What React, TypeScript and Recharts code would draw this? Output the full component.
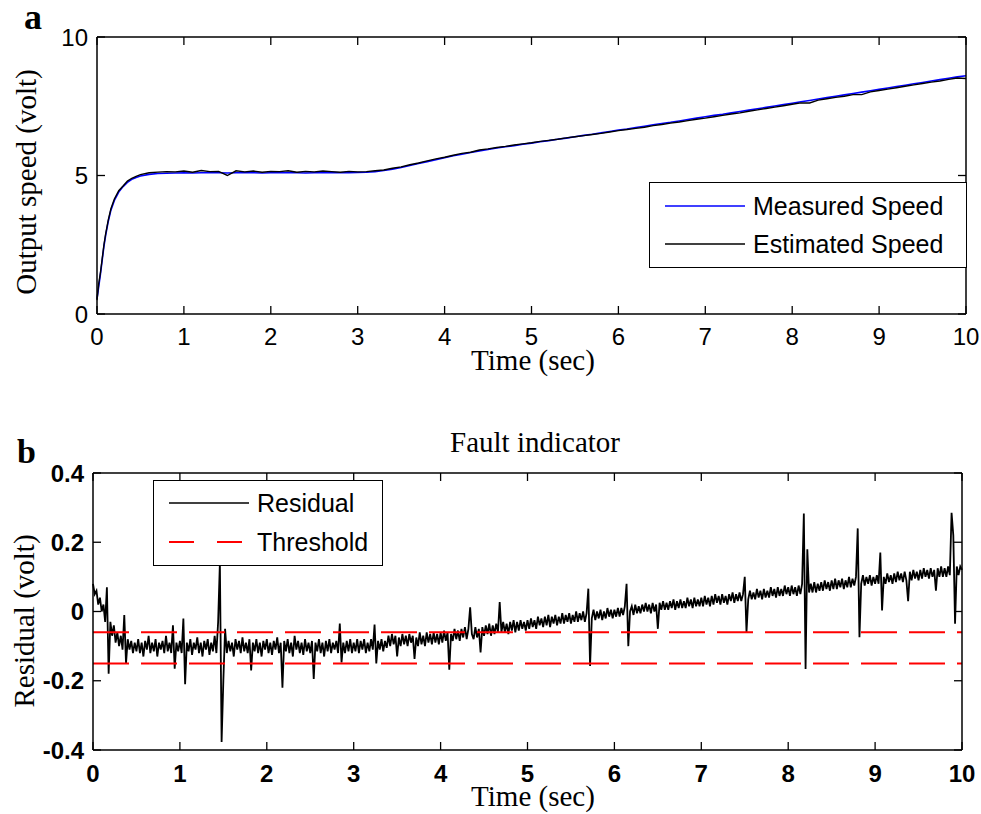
import React from 'react';
import { LineChart, Line, XAxis, YAxis, Legend } from 'recharts';

const SANS = '"Liberation Sans", Arial, sans-serif';
const SERIF = '"Liberation Serif", "Times New Roman", serif';

// ---------- Panel a : speed ----------
const timeA = [
  0, 0.02, 0.04, 0.06, 0.08, 0.1, 0.13, 0.16, 0.2, 0.25, 0.3, 0.35, 0.4, 0.45, 0.5, 0.6, 0.7,
  0.8, 0.9, 1.0, 1.1, 1.2, 1.3, 1.4, 1.5, 1.6, 1.7, 1.8, 1.9, 2.0, 2.1, 2.2, 2.3, 2.4, 2.5, 2.6, 2.7, 2.8, 2.9, 3.0,
  3.1, 3.2, 3.3, 3.4, 3.5, 3.6, 3.7, 3.8, 3.9, 4.0, 4.1, 4.2, 4.3, 4.4, 4.5, 4.6, 4.7, 4.8, 4.9, 5.0,
  5.1, 5.2, 5.3, 5.4, 5.5, 5.6, 5.7, 5.8, 5.9, 6.0, 6.1, 6.2, 6.3, 6.4, 6.5, 6.6, 6.7, 6.8, 6.9, 7.0,
  7.1, 7.2, 7.3, 7.4, 7.5, 7.6, 7.7, 7.8, 7.9, 8.0, 8.1, 8.2, 8.3, 8.4, 8.5, 8.6, 8.7, 8.8, 8.9, 9.0,
  9.1, 9.2, 9.3, 9.4, 9.5, 9.6, 9.7, 9.8, 9.9, 10.0,
];
const measuredSpeed = [
  0.55, 1.0, 1.45, 1.95, 2.45, 2.85, 3.35, 3.75, 4.1, 4.4, 4.6, 4.75, 4.86, 4.93, 4.98, 5.04, 5.07,
  5.08, 5.09, 5.1, 5.09, 5.1, 5.11, 5.1, 5.09, 5.1, 5.11, 5.1, 5.09, 5.1, 5.1, 5.11, 5.1, 5.09, 5.1, 5.1, 5.11, 5.1, 5.1, 5.11,
  5.12, 5.14, 5.18, 5.23, 5.29, 5.36, 5.43, 5.5, 5.57, 5.64, 5.71, 5.77, 5.83, 5.89, 5.94, 5.99, 6.04, 6.08, 6.13, 6.17,
  6.22, 6.26, 6.31, 6.35, 6.4, 6.45, 6.49, 6.54, 6.59, 6.64, 6.68, 6.73, 6.78, 6.83, 6.88, 6.92, 6.97, 7.02, 7.07, 7.12,
  7.17, 7.21, 7.26, 7.31, 7.36, 7.41, 7.46, 7.51, 7.56, 7.61, 7.66, 7.71, 7.76, 7.81, 7.86, 7.91, 7.96, 8.01, 8.06, 8.11,
  8.16, 8.21, 8.26, 8.31, 8.36, 8.41, 8.46, 8.51, 8.56, 8.6,
];
const estimatedSpeed = [
  0.5, 1.1, 1.5, 2.0, 2.5, 2.9, 3.4, 3.8, 4.15, 4.45, 4.62, 4.8, 4.9, 4.97, 5.03, 5.1, 5.12,
  5.14, 5.13, 5.16, 5.12, 5.18, 5.14, 5.15, 5.0, 5.17, 5.13, 5.16, 5.12, 5.15, 5.14, 5.17, 5.12, 5.15, 5.13, 5.16, 5.14, 5.12, 5.15, 5.13,
  5.14, 5.17, 5.2, 5.26, 5.31, 5.39, 5.45, 5.53, 5.6, 5.66, 5.73, 5.8, 5.84, 5.92, 5.96, 6.01, 6.05, 6.1, 6.14, 6.18,
  6.23, 6.27, 6.31, 6.36, 6.4, 6.44, 6.48, 6.52, 6.57, 6.62, 6.66, 6.7, 6.74, 6.8, 6.84, 6.89, 6.93, 6.98, 7.03, 7.07,
  7.12, 7.17, 7.22, 7.26, 7.32, 7.37, 7.42, 7.47, 7.52, 7.57, 7.62, 7.62, 7.72, 7.77, 7.82, 7.86, 7.92, 7.92, 8.02, 8.07,
  8.12, 8.17, 8.22, 8.27, 8.32, 8.37, 8.41, 8.47, 8.52, 8.5,
];
const speedTicksX = [0, 1, 2, 3, 4, 5, 6, 7, 8, 9, 10];
const speedTicksY = [0, 5, 10];

// ---------- Panel b : residual (sampled every 0.02 s) ----------
const RES_STEP = 0.02;
const residualSec0 = [
  0.08, 0.05, 0.06, 0.02, 0.04, 0.0, 0.02, -0.03, 0.07, -0.18,
  -0.03, -0.07, -0.04, -0.09, -0.06, -0.1, -0.07, -0.11, -0.01, -0.15,
  -0.08, -0.11, -0.085, -0.12, -0.09, -0.115, -0.08, -0.12, -0.09, -0.13,
  -0.085, -0.11, -0.07, -0.12, -0.09, -0.115, -0.08, -0.13, -0.09, -0.11,
  -0.085, -0.12, -0.07, -0.115, -0.09, -0.12, -0.04, -0.165, -0.09, -0.115,
];
const residualSec1 = [
  -0.085, -0.12, -0.02, -0.21, -0.09, -0.115, -0.08, -0.125, -0.09, -0.11,
  -0.075, -0.12, -0.09, -0.13, -0.085, -0.11, -0.08, -0.125, -0.09, -0.115,
  -0.07, -0.12, -0.03, 0.14, -0.377, -0.2, -0.05, -0.12, -0.085, -0.115,
  -0.09, -0.13, -0.08, -0.11, -0.085, -0.12, -0.075, -0.115, -0.09, -0.12,
  -0.08, -0.17, -0.09, -0.115, -0.08, -0.12, -0.09, -0.13, -0.085, -0.11,
];
const residualSec2 = [
  -0.08, -0.12, -0.09, -0.125, -0.085, -0.11, -0.075, -0.12, -0.09, -0.22,
  -0.085, -0.115, -0.08, -0.12, -0.09, -0.13, -0.07, -0.11, -0.085, -0.12,
  -0.09, -0.125, -0.08, -0.115, -0.09, -0.12, -0.085, -0.195, -0.09, -0.115,
  -0.08, -0.12, -0.09, -0.13, -0.085, -0.115, -0.08, -0.12, -0.09, -0.11,
  -0.085, -0.12, -0.035, -0.147, -0.09, -0.12, -0.085, -0.115, -0.08, -0.12,
];
const residualSec3 = [
  -0.09, -0.115, -0.08, -0.12, -0.085, -0.11, -0.08, -0.12, -0.09, -0.115,
  -0.08, -0.11, -0.038, -0.15, -0.085, -0.11, -0.08, -0.115, -0.085, -0.105,
  -0.07, -0.1, -0.065, -0.095, -0.07, -0.13, -0.075, -0.1, -0.065, -0.095,
  -0.07, -0.1, -0.065, -0.09, -0.07, -0.137, -0.075, -0.1, -0.06, -0.095,
  -0.07, -0.1, -0.06, -0.09, -0.065, -0.095, -0.06, -0.09, -0.065, -0.095,
];
const residualSec4 = [
  -0.06, -0.09, -0.055, -0.085, -0.06, -0.168, -0.065, -0.085, -0.05, -0.08,
  -0.055, -0.085, -0.05, -0.075, -0.045, -0.08, -0.05, 0.012, -0.065, -0.08,
  -0.045, -0.075, -0.05, -0.118, -0.045, -0.07, -0.04, -0.065, -0.035, -0.07,
  -0.04, -0.065, -0.035, -0.06, 0.027, -0.06, -0.03, -0.06, -0.035, -0.065,
  -0.03, -0.055, -0.025, -0.06, -0.03, -0.055, -0.025, -0.05, -0.03, -0.055,
];
const residualSec5 = [
  -0.025, -0.05, -0.02, -0.045, -0.025, -0.05, -0.015, -0.04, -0.02, -0.045,
  -0.015, -0.04, -0.01, -0.045, -0.015, -0.035, -0.01, -0.04, -0.015, -0.035,
  -0.005, -0.035, -0.01, -0.03, -0.005, -0.035, -0.01, -0.03, 0.0, -0.03,
  -0.005, -0.025, 0.0, -0.03, -0.005, 0.066, -0.157, -0.02, 0.005, -0.025,
  0.0, -0.02, 0.005, -0.025, 0.0, -0.02, 0.01, -0.015, 0.005, -0.02,
];
const residualSec6 = [
  0.005, -0.015, 0.01, -0.015, 0.01, -0.01, 0.015, 0.08, -0.1, 0.0,
  0.015, -0.01, 0.02, -0.005, 0.015, -0.005, 0.02, 0.0, 0.025, 0.0,
  0.02, -0.005, 0.025, 0.0, 0.02, -0.05, 0.025, 0.005, 0.03, 0.005,
  0.025, 0.005, 0.03, 0.01, 0.035, 0.005, 0.03, 0.01, 0.035, 0.01,
  0.03, 0.01, 0.04, 0.015, 0.035, 0.01, 0.04, 0.015, 0.035, 0.015,
];
const residualSec7 = [
  0.04, 0.015, 0.045, 0.02, 0.04, 0.015, 0.045, 0.02, 0.05, 0.025,
  0.045, 0.02, 0.05, 0.025, 0.045, 0.02, 0.05, 0.03, 0.055, 0.025,
  0.05, 0.03, 0.055, 0.03, 0.05, 0.1, -0.06, 0.035, 0.06, 0.035,
  0.055, 0.035, 0.065, 0.04, 0.06, 0.035, 0.065, 0.04, 0.06, 0.04,
  0.07, 0.045, 0.065, 0.04, 0.07, 0.045, 0.065, 0.045, 0.075, 0.05,
];
const residualSec8 = [
  0.07, 0.045, 0.075, 0.05, 0.07, 0.045, 0.075, 0.05, 0.08, 0.283,
  -0.166, 0.18, 0.055, 0.08, 0.055, 0.085, 0.055, 0.08, 0.06, 0.085,
  0.06, 0.09, 0.065, 0.085, 0.06, 0.09, 0.065, 0.095, 0.065, 0.09,
  0.07, 0.095, 0.065, 0.09, 0.07, 0.1, 0.07, 0.095, 0.075, 0.1,
  0.24, -0.074, 0.08, 0.105, 0.075, 0.1, 0.08, 0.105, 0.075, 0.1,
];
const residualSec9 = [
  0.08, 0.105, 0.08, 0.17, 0.003, 0.1, 0.08, 0.11, 0.085, 0.105,
  0.08, 0.11, 0.085, 0.115, 0.09, 0.11, 0.085, 0.115, 0.09, 0.03,
  0.115, 0.09, 0.12, 0.095, 0.115, 0.09, 0.12, 0.095, 0.125, 0.1,
  0.12, 0.095, 0.125, 0.1, 0.12, 0.06, 0.125, 0.1, 0.13, 0.1,
  0.125, 0.1, 0.13, 0.105, 0.285, 0.22, -0.035, 0.13, 0.105, 0.13,
  0.12,
];
const residualValues = [
  ...residualSec0, ...residualSec1, ...residualSec2, ...residualSec3, ...residualSec4,
  ...residualSec5, ...residualSec6, ...residualSec7, ...residualSec8, ...residualSec9,
];
const thresholdUpper = -0.06;
const thresholdLower = -0.15;
const thresholdTimes = [0, 10];
const residualTicksX = [0, 1, 2, 3, 4, 5, 6, 7, 8, 9, 10];
const residualTicksY = [-0.4, -0.2, 0, 0.2, 0.4];

const speedData = timeA.map((t, i) => ({ t, measured: measuredSpeed[i], estimated: estimatedSpeed[i] }));
const residualData = residualValues.map((v, i) => ({ t: Math.round(i * RES_STEP * 100) / 100, residual: v }));
const thresholdData = thresholdTimes.map((t) => ({ t, upper: thresholdUpper, lower: thresholdLower }));

// ---------- ticks ----------
const makeBottomTick = (bold: boolean, dy: number) => (props: any) => {
  const { x, y, payload } = props;
  return (
    <g>
      <line x1={x} x2={x} y1={y} y2={y - 8} stroke="#000" strokeWidth={1.3} />
      <text x={x} y={y + dy} textAnchor="middle" fontFamily={SANS} fontSize={24} fontWeight={bold ? 700 : 400} fill="#000">
        {String(payload.value)}
      </text>
    </g>
  );
};
const makeLeftTick = (bold: boolean) => (props: any) => {
  const { x, y, payload } = props;
  return (
    <g>
      <line x1={x} x2={x + 8} y1={y} y2={y} stroke="#000" strokeWidth={1.3} />
      <text x={x - 9} y={y + 8.5} textAnchor="end" fontFamily={SANS} fontSize={24} fontWeight={bold ? 700 : 400} fill="#000">
        {String(payload.value)}
      </text>
    </g>
  );
};
const TopTick = (props: any) => {
  const { x, y } = props;
  return <line x1={x} x2={x} y1={y} y2={y + 8} stroke="#000" strokeWidth={1.3} />;
};
const RightTick = (props: any) => {
  const { x, y } = props;
  return <line x1={x} x2={x - 8} y1={y} y2={y} stroke="#000" strokeWidth={1.3} />;
};

// ---------- legends ----------
const legendRow = (top: number, color: string, dash: string | undefined, label: string, width: number) => (
  <div style={{ position: 'absolute', left: 0, top: top - 16, height: 32, width }}>
    <svg width={100} height={32} style={{ position: 'absolute', left: 0, top: 0 }}>
      <line x1={15} x2={95} y1={16} y2={16} stroke={color} strokeWidth={color === '#ff0000' ? 2 : 1.5} strokeDasharray={dash} />
    </svg>
    <span style={{ position: 'absolute', left: 103, top: 0, lineHeight: '32px', fontFamily: SANS, fontSize: 25, color: '#000', whiteSpace: 'nowrap' }}>
      {label}
    </span>
  </div>
);

const LegendA = () => (
  <div style={{ position: 'relative', boxSizing: 'border-box', width: 318, height: 86, border: '1.5px solid #000', background: '#fff' }}>
    {legendRow(23, '#0000ff', undefined, 'Measured Speed', 316)}
    {legendRow(61, '#000000', undefined, 'Estimated Speed', 316)}
  </div>
);
const LegendB = () => (
  <div style={{ position: 'relative', boxSizing: 'border-box', width: 230, height: 86, border: '1.5px solid #000', background: '#fff' }}>
    {legendRow(22, '#000000', undefined, 'Residual', 228)}
    {legendRow(61, '#ff0000', '25 23', 'Threshold', 228)}
  </div>
);

const axisLine = { stroke: '#000', strokeWidth: 1.5 };

export default function App() {
  return (
    <div style={{ position: 'absolute', left: 0, top: 0, width: 981, height: 814, background: '#fff', overflow: 'hidden' }}>
      <div style={{ position: 'absolute', left: 0, top: 0 }}>
        <LineChart width={981} height={400} data={speedData} margin={{ top: 36, right: 14, left: 0, bottom: 0 }}>
          <XAxis xAxisId="b" dataKey="t" type="number" domain={[0, 10]} ticks={speedTicksX} interval={0} height={86}
            axisLine={axisLine} tickLine={false} tickSize={0} tickMargin={0} tick={makeBottomTick(false, 31)} />
          <XAxis xAxisId="top" orientation="top" dataKey="t" type="number" domain={[0, 10]} ticks={speedTicksX} interval={0} height={1}
            axisLine={axisLine} tickLine={false} tickSize={0} tickMargin={0} tick={TopTick} />
          <YAxis yAxisId="l" type="number" domain={[0, 10]} ticks={speedTicksY} interval={0} width={97}
            axisLine={axisLine} tickLine={false} tickSize={0} tickMargin={0} tick={makeLeftTick(false)} />
          <YAxis yAxisId="r" orientation="right" type="number" domain={[0, 10]} ticks={speedTicksY} interval={0} width={1}
            axisLine={axisLine} tickLine={false} tickSize={0} tickMargin={0} tick={RightTick} />
          <Line xAxisId="top" yAxisId="r" type="linear" dataKey="measured" stroke="#0000ff" strokeWidth={1.6} dot={false} isAnimationActive={false} />
          <Line xAxisId="b" yAxisId="l" type="linear" dataKey="estimated" stroke="#000000" strokeWidth={1.4} dot={false} isAnimationActive={false} />
          <Legend layout="horizontal" verticalAlign="middle" align="center" content={() => <LegendA />}
            wrapperStyle={{ position: 'absolute', left: 649, top: 182, width: 318, height: 86 }} />
        </LineChart>
      </div>

      <div style={{ position: 'absolute', left: 0, top: 420 }}>
        <LineChart width={981} height={394} margin={{ top: 52, right: 18, left: 0, bottom: 0 }}>
          <XAxis xAxisId="b" dataKey="t" type="number" domain={[0, 10]} ticks={residualTicksX} interval={0} height={64}
            axisLine={axisLine} tickLine={false} tickSize={0} tickMargin={0} tick={makeBottomTick(true, 32)} />
          <XAxis xAxisId="top" orientation="top" dataKey="t" type="number" domain={[0, 10]} ticks={residualTicksX} interval={0} height={1}
            axisLine={axisLine} tickLine={false} tickSize={0} tickMargin={0} tick={TopTick} />
          <YAxis yAxisId="l" type="number" domain={[-0.4, 0.4]} ticks={residualTicksY} interval={0} width={93}
            axisLine={axisLine} tickLine={false} tickSize={0} tickMargin={0} tick={makeLeftTick(true)} />
          <YAxis yAxisId="r" orientation="right" type="number" domain={[-0.4, 0.4]} ticks={residualTicksY} interval={0} width={1}
            axisLine={axisLine} tickLine={false} tickSize={0} tickMargin={0} tick={RightTick} />
          <Line xAxisId="b" yAxisId="l" data={residualData} type="linear" dataKey="residual" stroke="#000000" strokeWidth={1.8} dot={false} isAnimationActive={false} />
          <Line xAxisId="top" yAxisId="r" data={thresholdData} type="linear" dataKey="upper" stroke="#ff0000" strokeWidth={2} strokeDasharray="36 12" dot={false} isAnimationActive={false} />
          <Line xAxisId="top" yAxisId="r" data={thresholdData} type="linear" dataKey="lower" stroke="#ff0000" strokeWidth={2} strokeDasharray="36 12" dot={false} isAnimationActive={false} />
          <Legend layout="horizontal" verticalAlign="middle" align="center" content={() => <LegendB />}
            wrapperStyle={{ position: 'absolute', left: 153, top: 60, width: 230, height: 86 }} />
        </LineChart>
      </div>

      <svg width={981} height={814} style={{ position: 'absolute', left: 0, top: 0, pointerEvents: 'none' }}>
        <text x={24} y={29} fontFamily={SERIF} fontSize={36} fontWeight={700} fill="#000">a</text>
        <text x={17} y={463} fontFamily={SERIF} fontSize={34} fontWeight={700} fill="#000">b</text>
        <text x={535} y={452} textAnchor="middle" fontFamily={SERIF} fontSize={29} fill="#000">Fault indicator</text>
        <text x={533} y={370} textAnchor="middle" fontFamily={SERIF} fontSize={29} fill="#000">Time (sec)</text>
        <text x={533} y={806} textAnchor="middle" fontFamily={SERIF} fontSize={29} fill="#000">Time (sec)</text>
        <text transform="translate(36,182) rotate(-90)" textAnchor="middle" fontFamily={SERIF} fontSize={29} fill="#000">Output speed (volt)</text>
        <text transform="translate(34,621) rotate(-90)" textAnchor="middle" fontFamily={SERIF} fontSize={29} fill="#000">Residual (volt)</text>
      </svg>
    </div>
  );
}
